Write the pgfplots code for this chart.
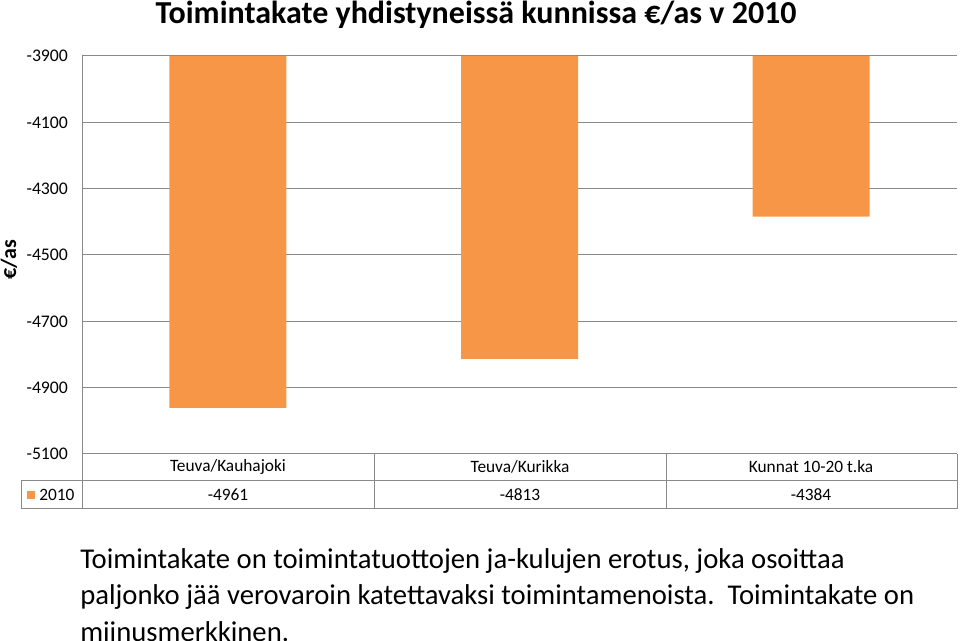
\documentclass[border=0pt]{standalone}
\usepackage{fontspec}
\setmainfont{Carlito}
\usepackage{pgfplots}
\pgfplotsset{compat=1.18}
\definecolor{barorange}{HTML}{F79646}
\definecolor{gridgray}{HTML}{898989}
\begin{document}
\begin{tikzpicture}
\path[use as bounding box] (0pt,0pt) rectangle (720pt,480.75pt);
\begin{axis}[
  at={(61.5pt,140.25pt)}, anchor=south west,
  scale only axis, width=656.25pt, height=298.5pt,
  xmin=-0.5, xmax=2.5, ymin=-5100, ymax=-3900,
  ytick={-5100,-4900,...,-3900},
  hide x axis,
  axis y line=left,
  y axis line style={-, draw=gridgray, line width=0.75pt},
  ymajorgrids,
  major grid style={gridgray, line width=0.75pt},
  major tick length=0pt,
  /pgf/number format/assume math mode=true,
  /pgf/number format/1000 sep={},
  yticklabel style={font=\fontsize{13.3}{15}\selectfont, xshift=-7pt},
  clip=true,
]
\addplot[ybar, bar width=87.75pt, fill=barorange, draw=none, bar shift=0pt]
  coordinates {(0,-4961) (1,-4813) (2,-4384)};
\end{axis}
\begin{scope}[x=0.75pt,y=0.75pt]
% y label
\node[rotate=90, font=\bfseries\fontsize{16.5}{18}\selectfont] at (9,381) {€/as};
% title
\node[font=\bfseries\fontsize{24}{28}\selectfont] at (476,626) {Toimintakate yhdistyneissä kunnissa €/as v 2010};
% data table
\begin{scope}[draw=gridgray, line width=0.75pt]
\draw (82,187) -- (957,187);
\draw (21,160) -- (957,160);
\draw (21,132) -- (957,132);
\draw (82,187) -- (82,132);
\draw (374,187) -- (374,132);
\draw (666,187) -- (666,132);
\draw (957,187) -- (957,132);
\draw (21,160) -- (21,132);
\end{scope}
\fill[barorange] (27,150) rectangle (35,142);
\begin{scope}[font=\fontsize{13}{15}\selectfont]
\node at (228,174) {Teuva/Kauhajoki};
\node at (520,174) {Teuva/Kurikka};
\node at (811,174) {Kunnat 10-20 t.ka};
\node[anchor=west, inner sep=0pt] at (39,146) {2010};
\node at (228,146) {-4961};
\node at (520,146) {-4813};
\node at (811,146) {-4384};
\end{scope}
% caption
\begin{scope}[font=\fontsize{21.5}{25}\selectfont]
\node[anchor=base west, inner sep=0pt] at (80,72) {Toimintakate on toimintatuottojen ja-kulujen erotus, joka osoittaa};
\node[anchor=base west, inner sep=0pt] at (80,36) {paljonko jää verovaroin katettavaksi toimintamenoista.\ \ Toimintakate on};
\node[anchor=base west, inner sep=0pt] at (80,-1) {miinusmerkkinen.};
\end{scope}
\end{scope}
\end{tikzpicture}
\end{document}
